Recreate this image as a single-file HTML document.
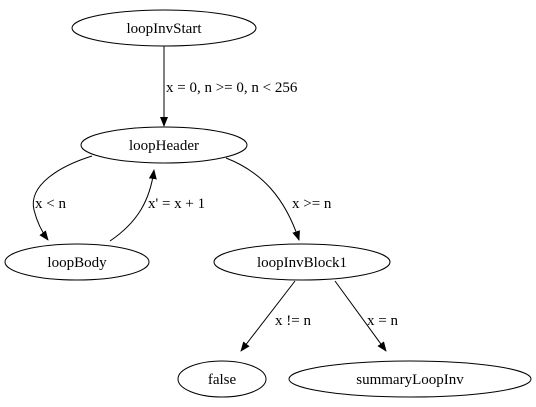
<!DOCTYPE html>
<html><head><meta charset="utf-8"><style>
html,body{margin:0;padding:0;background:#fff;}
svg{display:block;}
text{font-family:"Liberation Serif",serif;font-size:15px;fill:#000;}
</style></head><body>
<svg width="536" height="407" viewBox="0 0 536 407" xmlns="http://www.w3.org/2000/svg">
<defs><marker id="a" markerWidth="10" markerHeight="8" refX="9" refY="4" orient="auto" markerUnits="userSpaceOnUse"><path d="M0,0 L10,4 L0,8 Z" fill="#000"/></marker></defs>
<g fill="none" stroke="#000" stroke-width="1">
<ellipse cx="164" cy="28" rx="92" ry="18"/>
<ellipse cx="164" cy="145" rx="83" ry="18"/>
<ellipse cx="77" cy="262" rx="72" ry="18"/>
<ellipse cx="302" cy="262" rx="88" ry="18"/>
<ellipse cx="222" cy="379" rx="44" ry="18"/>
<ellipse cx="410" cy="379" rx="121" ry="18"/>
<path d="M164,46 L164,126" marker-end="url(#a)"/>
<path d="M92,156 C60,166 28,185 34,210 C37,222 42,232 48,240" marker-end="url(#a)"/>
<path d="M110,241 C138,222 150,200 154,170" marker-end="url(#a)"/>
<path d="M226,158 C262,172 285,198 299,240" marker-end="url(#a)"/>
<path d="M295,281 L241,351" marker-end="url(#a)"/>
<path d="M335,281 L386,351" marker-end="url(#a)"/>
</g>
<text x="164" y="33" text-anchor="middle">loopInvStart</text>
<text x="164" y="150" text-anchor="middle">loopHeader</text>
<text x="77" y="267" text-anchor="middle">loopBody</text>
<text x="302" y="267" text-anchor="middle">loopInvBlock1</text>
<text x="222" y="384" text-anchor="middle">false</text>
<text x="410" y="384" text-anchor="middle">summaryLoopInv</text>
<text x="166" y="92">x = 0, n &gt;= 0, n &lt; 256</text>
<text x="35" y="208">x &lt; n</text>
<text x="148" y="208">x' = x + 1</text>
<text x="292" y="208">x &gt;= n</text>
<text x="275" y="325">x != n</text>
<text x="367" y="325">x = n</text>
</svg>
</body></html>
